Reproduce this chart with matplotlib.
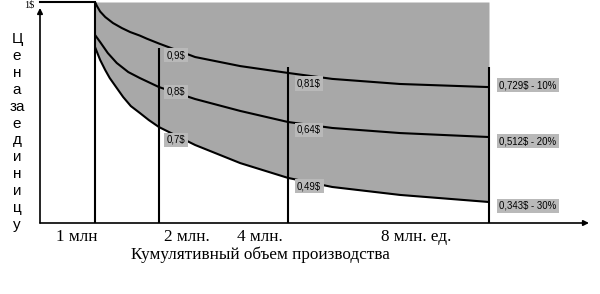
import numpy as np
import matplotlib
matplotlib.use("Agg")
import matplotlib.pyplot as plt

# ---- data (volume in millions, price in $) ----
milestones = [1, 2, 4, 8]
milestone_labels = ["1 млн", "2 млн.", "4 млн.", "8 млн. ед."]

vol10 = [1.0, 1.03, 1.08, 1.16, 1.28, 1.42, 1.55, 1.70, 1.81, 2.0, 2.56, 3.26, 4.0, 4.88, 6.23, 8.0]
curve10 = [1.0, 0.982, 0.957, 0.932, 0.905, 0.882, 0.864, 0.848, 0.834, 0.812, 0.751, 0.710, 0.679, 0.652, 0.629, 0.615]
vol20 = [1.0, 1.08, 1.20, 1.34, 1.52, 1.70, 2.0, 2.56, 3.26, 4.0, 4.88, 6.23, 8.0]
curve20 = [0.851, 0.819, 0.769, 0.724, 0.683, 0.656, 0.615, 0.561, 0.507, 0.457, 0.430, 0.407, 0.389]
vol30 = [1.0, 1.08, 1.16, 1.23, 1.33, 1.44, 1.56, 1.70, 1.84, 2.0, 2.56, 3.26, 4.0, 4.88, 6.23, 8.0]
curve30 = [0.796, 0.738, 0.692, 0.656, 0.615, 0.570, 0.529, 0.498, 0.466, 0.434, 0.353, 0.271, 0.204, 0.163, 0.127, 0.095]

labels_2 = ["0,9$", "0,8$", "0,7$"]
labels_4 = ["0,81$", "0,64$", "0,49$"]
labels_8 = ["0,729$ - 10%", "0,512$ - 20%", "0,343$ - 30%"]
y_letters = ["Ц", "е", "н", "а", "за", "е", "д", "и", "н", "и", "ц", "у"]

# ---- layout ----
W, H = 600, 294
fig = plt.figure(figsize=(6, 2.94), dpi=100)
ax = fig.add_axes([40 / W, (H - 223) / H, 549 / W, 221 / H])
ax.set_axis_off()

# piecewise x scale (schematic spacing)
_xv = np.array([0, 1, 2, 4, 8, 10], float)
_xp = np.array([0, 55, 119, 248, 449, 549], float)
def fwd(v):
    return np.interp(v, _xv, _xp)
def inv(p):
    return np.interp(p, _xp, _xv)
ax.set_xscale("function", functions=(fwd, inv))
ax.set_xlim(0, 10)
ax.set_ylim(0, 1)

gray = "#a8a8a8"
box = "#b9b9b9"
lw = 1.5

# shaded area above the 30% curve
ax.fill_between(vol30, curve30, 1.0, color=gray, lw=0, zorder=1)

# curves
for vx, cy in [(vol10, curve10), (vol20, curve20), (vol30, curve30)]:
    ax.plot(vx, cy, color="black", lw=lw, zorder=3, solid_capstyle="butt",
            solid_joinstyle="round")

# vertical milestone lines
tops = [1.0, 0.792, 0.706, 0.706]
for m, t in zip(milestones, tops):
    ax.plot([m, m], [0, t], color="black", lw=lw, zorder=3, solid_capstyle="butt")

# top 1$ line
ax.plot([0, 1], [1.0, 1.0], color="black", lw=lw, zorder=3, clip_on=False)

# axes arrows
ax.annotate("", xy=(0, 0.973), xytext=(0, 0),
            arrowprops=dict(arrowstyle="-|>", color="black", lw=1.2,
                            mutation_scale=8, shrinkA=0, shrinkB=0),
            annotation_clip=False, zorder=4)
ax.annotate("", xy=(10, 0), xytext=(0, 0),
            arrowprops=dict(arrowstyle="-|>", color="black", lw=1.2,
                            mutation_scale=8, shrinkA=0, shrinkB=0),
            annotation_clip=False, zorder=4)

# value labels
lab_font = dict(family="Liberation Sans", fontsize=6.9, color="black")
bb = dict(boxstyle="square,pad=0.25", fc=box, ec="none")
for txt, y in zip(labels_2, [0.760, 0.593, 0.376]):
    ax.text(2.12, y, txt, ha="left", va="center", bbox=bb, zorder=5, **lab_font)
for txt, y in zip(labels_4, [0.633, 0.421, 0.167]):
    ax.text(4.18, y, txt, ha="left", va="center", bbox=bb, zorder=5, **lab_font)
for txt, y in zip(labels_8, [0.624, 0.371, 0.077]):
    ax.text(8.2, y, txt, ha="left", va="center", bbox=bb, zorder=5,
            clip_on=False, **lab_font)

# vertical y label (stacked letters)
fig.text(17 / W, 1 - 132 / H, "\n".join(y_letters), ha="center", va="center",
         multialignment="center", family="Liberation Sans", fontsize=11,
         linespacing=1.27)
fig.text(29 / W, 1 - 0.5 / H, "1$", ha="center", va="top",
         family="Liberation Serif", fontsize=7.5)

# x labels
serif = dict(family="Liberation Serif", fontsize=12.3)
xl_pos = [77, 187, 260, 416]
for txt, px in zip(milestone_labels, xl_pos):
    fig.text(px / W, 1 - 237 / H, txt, ha="center", va="center", **serif)
fig.text(260 / W, 1 - 255 / H, "Кумулятивный объем производства",
         ha="center", va="center", family="Liberation Serif", fontsize=12.3)

fig.savefig("out.png", dpi=100)
